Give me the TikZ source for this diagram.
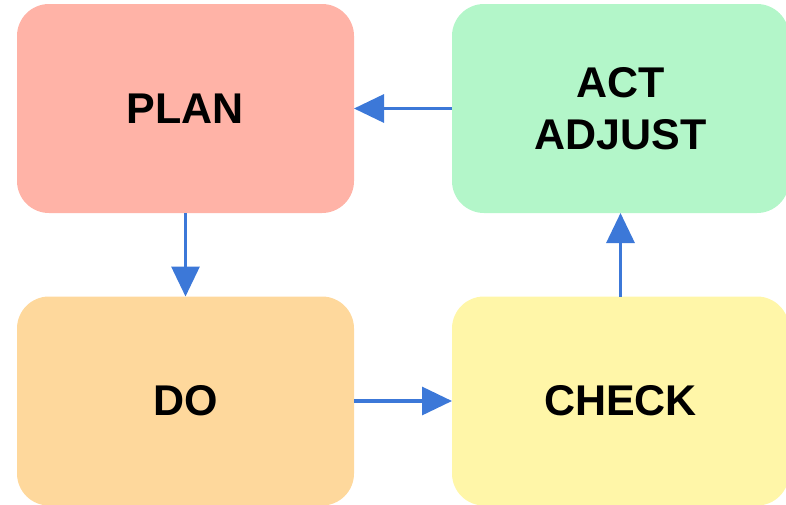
\documentclass[tikz,border=0pt]{standalone}
\usepackage{fontspec}
\setmainfont{Liberation Sans}
\usetikzlibrary{arrows.meta}
\definecolor{planc}{RGB}{255,179,167}
\definecolor{actc}{RGB}{179,246,201}
\definecolor{doc}{RGB}{254,216,156}
\definecolor{checkc}{RGB}{255,246,168}
\definecolor{arrowc}{RGB}{60,120,216}
\begin{document}
\begin{tikzpicture}[x=1pt,y=-1pt,
  box/.style={rounded corners=32pt, minimum width=337pt, minimum height=209pt,
    inner sep=0pt, outer sep=0pt, align=center,
    font=\fontsize{43}{52}\selectfont\bfseries},
  conn/.style={draw=arrowc, line width=3.2pt,
    -{Triangle[length=30pt,width=28pt]}}]
\useasboundingbox (0,0) rectangle (786,504);
\clip (0,0) rectangle (786,504);
\node[box, fill=planc] (plan) at (185.5,108.5) {PLAN};
\node[box, fill=actc] (act) at (620.5,108.5) {ACT\\ADJUST};
\node[box, fill=doc] (do) at (185.5,401) {DO};
\node[box, fill=checkc] (check) at (620.5,401) {CHECK};
\draw[conn] (plan) -- (do);
\draw[conn] (do) -- (check);
\draw[conn] (check) -- (act);
\draw[conn] (act) -- (plan);
\end{tikzpicture}
\end{document}
